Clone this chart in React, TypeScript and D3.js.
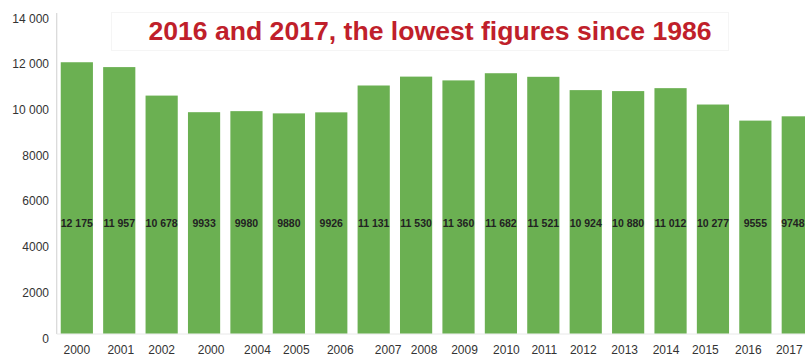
import React from 'react';
import * as d3 from 'd3';

// Annual totals, 2000–2017
const years = ['2000', '2001', '2002', '2000', '2004', '2005', '2006', '2007', '2008', '2009', '2010', '2011', '2012', '2013', '2014', '2015', '2016', '2017'];
const counts = [12175, 11957, 10678, 9933, 9980, 9880, 9926, 11131, 11530, 11360, 11682, 11521, 10924, 10880, 11012, 10277, 9555, 9748];
const yTicks = [0, 2000, 4000, 6000, 8000, 10000, 12000, 14000];
const title = '2016 and 2017, the lowest figures since 1986';

// Horizontal nudge (px) applied to each year label under its bar
const yearLabelShift = [0, 1.5, 0, 7, 11, 7.5, 9, 14.5, 8, 6, 5.5, 1, -2.5, -3.5, -4.5, -7.5, -7, -8.5];

const W = 805;
const H = 358;
const FONT = '"Liberation Sans", Arial, Helvetica, sans-serif';
const GREEN = '#6bb052';
const RED = '#c01f2b';

const fmt = (v: number) => (v >= 10000 ? d3.format(',')(v).replace(/,/g, ' ') : String(v));

export default function App() {
  const idx = d3.range(years.length);

  const x = d3
    .scaleBand<number>()
    .domain(idx)
    .range([56.5, 818.1])
    .paddingInner(0.241)
    .paddingOuter(0.1);

  const baseY = 333.5;
  const y = d3.scaleLinear().domain([0, 14000]).range([baseY, baseY - 14000 * 0.02228]);
  // tick labels sit on a slightly wider spacing than the bars
  const yLab = y.copy().range([338.3, 18.3]);

  const axisX = 56.7;
  const valueFont = 10.5;

  // keep a value label inside the right edge of the drawing
  const valueX = (i: number) => {
    const c = (x(i) as number) + x.bandwidth() / 2;
    const half = (fmt(counts[i]).length * 0.556 * valueFont) / 2;
    return Math.min(c, W - half - 0.5);
  };

  return (
    <svg
      width={W}
      height={H}
      style={{ position: 'absolute', left: 0, top: 0, background: '#fff' }}
      fontFamily={FONT}
    >
      <rect x={0} y={0} width={W} height={H} fill="#ffffff" />

      {/* title panel */}
      <rect x={111.5} y={12.5} width={617} height={38} fill="#ffffff" stroke="#f5f5f5" strokeWidth={1} />
      <text
        x={430}
        y={39.5}
        textAnchor="middle"
        fontSize={26.6}
        fontWeight="bold"
        fill={RED}
      >
        {title}
      </text>

      {/* axes */}
      <line x1={axisX} x2={axisX} y1={13} y2={baseY + 0.5} stroke="#d8d8d8" strokeWidth={1.2} />
      <line x1={axisX} x2={W} y1={baseY + 0.5} y2={baseY + 0.5} stroke="#e8e8e8" strokeWidth={1} />

      {yTicks.map((t) => (
        <text
          key={t}
          x={49}
          y={yLab(t)}
          dy="0.36em"
          textAnchor="end"
          fontSize={12}
          fill="#333"
        >
          {fmt(t)}
        </text>
      ))}

      {/* bars */}
      {idx.map((i) => (
        <rect
          key={i}
          x={x(i)}
          y={y(counts[i])}
          width={x.bandwidth()}
          height={y(0) - y(counts[i])}
          fill={GREEN}
        />
      ))}

      {/* value labels */}
      {idx.map((i) => (
        <text
          key={i}
          x={valueX(i)}
          y={227}
          textAnchor="middle"
          fontSize={valueFont}
          fontWeight="bold"
          fill="#222"
        >
          {fmt(counts[i])}
        </text>
      ))}

      {/* year labels */}
      {idx.map((i) => (
        <text
          key={i}
          x={(x(i) as number) + x.bandwidth() / 2 + yearLabelShift[i]}
          y={354.3}
          textAnchor="middle"
          fontSize={12}
          fill="#333"
        >
          {years[i]}
        </text>
      ))}
    </svg>
  );
}
